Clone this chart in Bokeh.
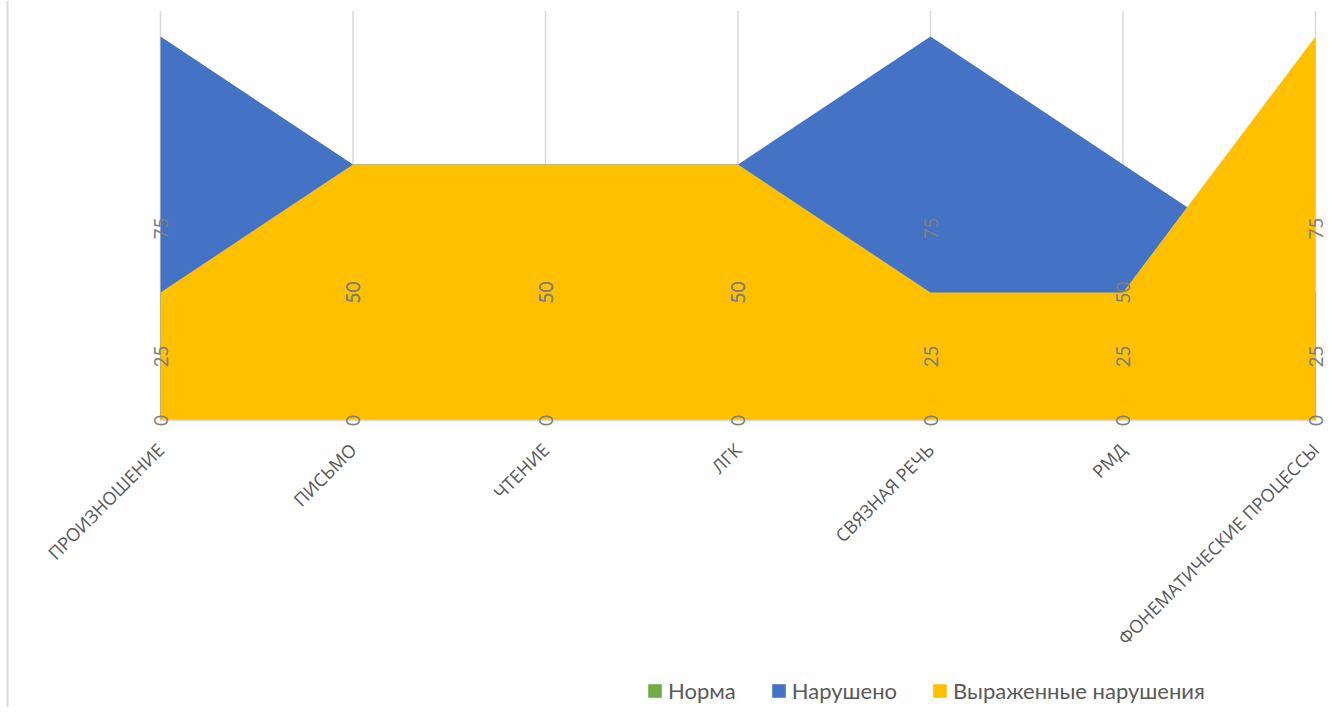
import math
from bokeh.plotting import figure
from bokeh.models import ColumnDataSource, Range1d, Legend, LegendItem, Span
from bokeh.core.properties import value
from bokeh.embed import file_html
from bokeh.resources import INLINE

categories = ["ПРОИЗНОШЕНИЕ", "ПИСЬМО", "ЧТЕНИЕ", "ЛГК", "СВЯЗНАЯ РЕЧЬ", "РМД",
              "ФОНЕМАТИЧЕСКИЕ ПРОЦЕССЫ"]
norma = [0, 0, 0, 0, 0, 0, 0]
narusheno = [75, 50, 50, 50, 75, 50, 25]
vyrazh = [25, 50, 50, 50, 25, 25, 75]
series_names = ["Норма", "Нарушено", "Выраженные нарушения"]
series_colors = ["#70AD47", "#4472C4", "#FFC000"]
y_max = 80

n = len(categories)
xs = list(range(n))

# layout (pixels)
W, H = 1333, 707
PX0, STEP = 160.0, 192.5      # pixel of first category, pixels between categories
PY0, PPU = 420.0, 5.12        # pixel of value 0, pixels per unit

p = figure(width=W, height=H, output_backend="svg", toolbar_location=None,
           x_range=Range1d(-PX0 / STEP, (W - PX0) / STEP),
           y_range=Range1d(-(H - PY0) / PPU, PY0 / PPU),
           x_axis_location=None, y_axis_location=None,
           min_border=0)
p.outline_line_color = None
p.background_fill_color = "white"
p.border_fill_color = "white"
p.xgrid.grid_line_color = None
p.ygrid.grid_line_color = None

# chart border on the left
p.add_layout(Span(location=7, dimension="height", location_units="screen",
                  line_color="#d9d9d9", line_width=2))

# vertical category gridlines
p.segment(x0=xs, x1=xs, y0=[0] * n, y1=[y_max] * n, line_color="#d9d9d9", line_width=1.5)

# areas
renderers = []
for vals, color in zip([norma, narusheno, vyrazh], series_colors):
    src = ColumnDataSource(dict(x=xs, y1=[0] * n, y2=vals))
    r = p.varea(x="x", y1="y1", y2="y2", source=src, fill_color=color, fill_alpha=1)
    renderers.append(r)

# category axis baseline
p.segment(x0=[xs[0]], x1=[xs[-1]], y0=[0], y1=[0], line_color="#d9d9d9", line_width=1.5)

# data labels (placed at the middle of each area height)
lx, ly, lt = [], [], []
for vals in [norma, narusheno, vyrazh]:
    for i, v in enumerate(vals):
        lx.append(i)
        ly.append(v / 2)
        lt.append(str(v))
lsrc = ColumnDataSource(dict(x=lx, y=ly, t=lt))
p.text(x="x", y="y", text="t", source=lsrc, angle=math.pi / 2,
       text_align="center", text_baseline="middle", text_color="#7f7f7f",
       text_font=value("Lato"), text_font_size="19px")

# category labels (rotated 45 degrees, ending at the category position)
csrc = ColumnDataSource(dict(x=xs, y=[-26 / PPU] * n, t=categories))
p.text(x="x", y="y", text="t", source=csrc, angle=math.pi / 4,
       text_align="right", text_baseline="middle", text_color="#595959",
       text_font=value("Open Sans"), text_font_size="18px")

# legend
items = [LegendItem(label=nm, renderers=[r]) for nm, r in zip(series_names, renderers)]
legend = Legend(items=items, orientation="horizontal", location=(646, 3),
                padding=0, margin=0, spacing=34, label_standoff=5,
                glyph_width=17, glyph_height=17, label_height=22,
                label_text_font="Lato", label_text_font_size="22px",
                label_text_color="#595959", border_line_color=None,
                background_fill_alpha=0)
p.add_layout(legend, "center")

open("out.html", "w").write(file_html(p, INLINE))
